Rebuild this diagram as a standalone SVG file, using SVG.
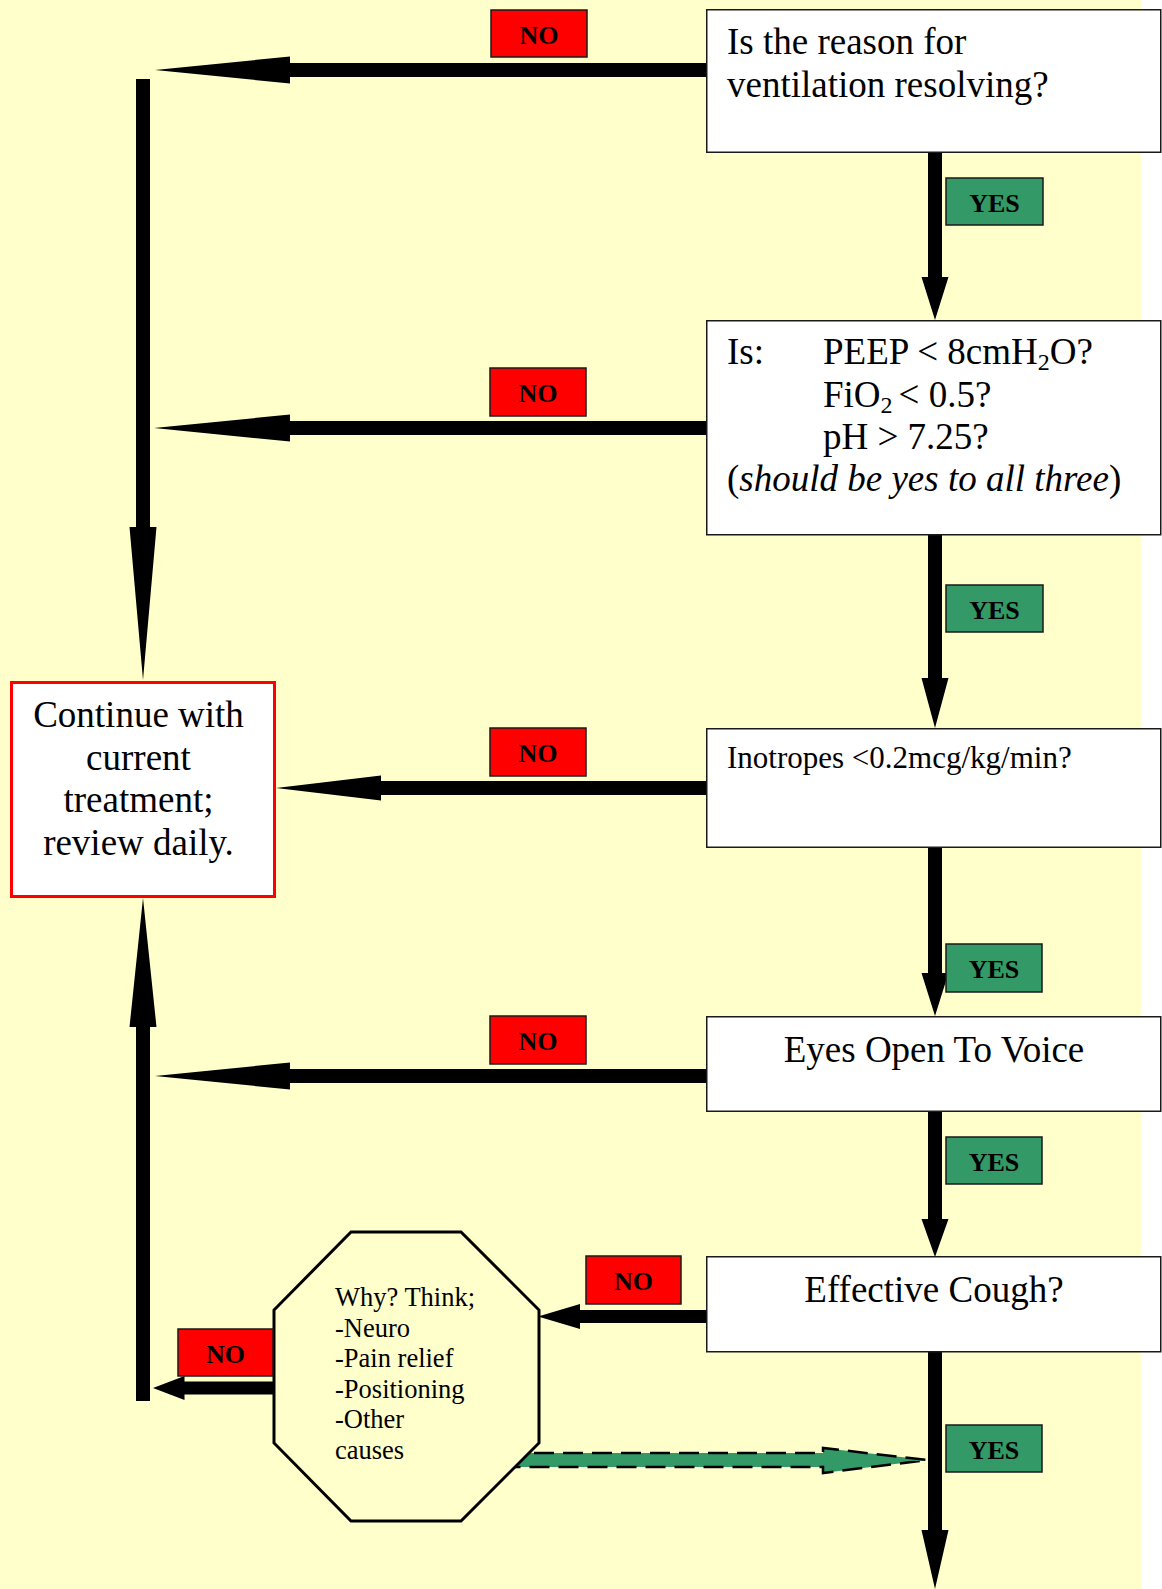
<svg xmlns="http://www.w3.org/2000/svg" width="1162" height="1589" viewBox="0 0 1162 1589">
<style>
.box{fill:#FFFFFF;stroke:#1a1a1a;stroke-width:1.5}
.no{fill:#FF0000;stroke:#1a1a1a;stroke-width:1.5}
.yes{fill:#339966;stroke:#1a1a1a;stroke-width:1.5}
.lbl{font-family:"Liberation Serif",serif;font-weight:bold;font-size:26px;text-anchor:middle;fill:#000}
.t{font-family:"Liberation Serif",serif;font-size:37px;fill:#000}
.t31{font-family:"Liberation Serif",serif;font-size:31px;fill:#000}
.t26{font-family:"Liberation Serif",serif;font-size:26.5px;fill:#000}
.c{text-anchor:middle}
.arr{fill:#000}
.dash{fill:#339966;stroke:#000;stroke-width:2.5;stroke-dasharray:20 9}
</style>
<rect x="0" y="0" width="1162" height="1589" fill="#FFFFFF"/>
<rect x="0" y="0" width="1141" height="1589" fill="#FFFFCC"/>
<g id="connectors">
  <polygon class="arr" points="706,63 290,63 290,56.5 155,70 290,83.5 290,77 706,77"/>
  <polygon class="arr" points="706,421 290,421 290,414.5 154,428 290,441.5 290,435 706,435"/>
  <polygon class="arr" points="706,781 381,781 381,775.5 276,788 381,800.5 381,795 706,795"/>
  <polygon class="arr" points="706,1069 290,1069 290,1062.5 155,1076 290,1089.5 290,1083 706,1083"/>
  <polygon class="arr" points="706,1310 580,1310 580,1304 538,1316.5 580,1329 580,1323 706,1323"/>
  <polygon class="arr" points="274,1381.5 184.5,1381.5 184.5,1376 153,1388 184.5,1400 184.5,1394.5 274,1394.5"/>
  <polygon class="arr" points="136,79 150,79 150,527 156.5,527 143,680 129.5,527 136,527"/>
  <polygon class="arr" points="136,1401 150,1401 150,1027 156.5,1027 143,898 129.5,1027 136,1027"/>
  <polygon class="arr" points="928,153 942,153 942,277 948.5,277 935,320 921.5,277 928,277"/>
  <polygon class="arr" points="928,535 942,535 942,678 948.5,678 935,728 921.5,678 928,678"/>
  <polygon class="arr" points="928,848 942,848 942,973 948.5,973 935,1016 921.5,973 928,973"/>
  <polygon class="arr" points="928,1111 942,1111 942,1219 948.5,1219 935,1257 921.5,1219 928,1219"/>
  <polygon class="arr" points="928,1352 942,1352 942,1530 948.5,1530 935,1589 921.5,1530 928,1530"/>
  <polygon class="dash" points="505,1453 823,1453 823,1448 927,1460 823,1473 823,1467 505,1467"/>
</g>
<g id="node-reason">
  <rect class="box" x="706.75" y="9.75" width="454" height="142.5"/>
  <text class="t" x="727" y="54">Is the reason for</text>
  <text class="t" x="727" y="97">ventilation resolving?</text>
</g>
<g id="node-peep">
  <rect class="box" x="706.75" y="320.75" width="454" height="214"/>
  <text class="t" x="727" y="364">Is:</text>
  <text class="t" x="823" y="364">PEEP &lt; 8cmH<tspan font-size="24" dy="6">2</tspan><tspan dy="-6">O?</tspan></text>
  <text class="t" x="823" y="407">FiO<tspan font-size="24" dy="6">2 </tspan><tspan dy="-6">&lt; 0.5?</tspan></text>
  <text class="t" x="823" y="449">pH &gt; 7.25?</text>
  <text class="t" x="727" y="491">(<tspan font-style="italic">should be yes to all three</tspan>)</text>
</g>
<g id="node-inotropes">
  <rect class="box" x="706.75" y="728.75" width="454" height="118.5"/>
  <text class="t31" x="727" y="768">Inotropes &lt;0.2mcg/kg/min?</text>
</g>
<g id="node-eyes">
  <rect class="box" x="706.75" y="1016.75" width="454" height="94.5"/>
  <text class="t c" x="934" y="1062">Eyes Open To Voice</text>
</g>
<g id="node-cough">
  <rect class="box" x="706.75" y="1256.75" width="454" height="95"/>
  <text class="t c" x="934" y="1302">Effective Cough?</text>
</g>
<g id="node-continue">
  <rect x="11.5" y="682.5" width="263" height="214" fill="#FFFFFF" stroke="#FF0000" stroke-width="3"/>
  <text class="t c" x="138.5" y="727">Continue with</text>
  <text class="t c" x="138.5" y="770">current</text>
  <text class="t c" x="138.5" y="812">treatment;</text>
  <text class="t c" x="138.5" y="855">review daily.</text>
</g>
<g id="node-why">
  <polygon points="351,1232 461,1232 539,1310 539,1443 461,1521 351,1521 274,1443 274,1310" fill="#FFFFCC" stroke="#000" stroke-width="3"/>
  <text class="t26" x="335" y="1306">Why? Think;</text>
  <text class="t26" x="335" y="1337">-Neuro</text>
  <text class="t26" x="335" y="1367">-Pain relief</text>
  <text class="t26" x="335" y="1398">-Positioning</text>
  <text class="t26" x="335" y="1428">-Other</text>
  <text class="t26" x="335" y="1459">causes</text>
</g>
<g id="labels">
  <rect class="no" x="491" y="10" width="96" height="47"/><text class="lbl" x="539" y="44">NO</text>
  <rect class="no" x="490" y="368" width="96" height="48"/><text class="lbl" x="538" y="402">NO</text>
  <rect class="no" x="490" y="728" width="96" height="48"/><text class="lbl" x="538" y="762">NO</text>
  <rect class="no" x="490" y="1016" width="96" height="48"/><text class="lbl" x="538" y="1050">NO</text>
  <rect class="no" x="586" y="1256" width="95" height="48"/><text class="lbl" x="633.5" y="1290">NO</text>
  <rect class="no" x="178" y="1329" width="95" height="47"/><text class="lbl" x="225.5" y="1363">NO</text>
  <rect class="yes" x="946" y="178" width="97" height="47"/><text class="lbl" x="994.5" y="212">YES</text>
  <rect class="yes" x="946" y="585" width="97" height="47"/><text class="lbl" x="994.5" y="619">YES</text>
  <rect class="yes" x="946" y="944" width="96" height="48"/><text class="lbl" x="994" y="978">YES</text>
  <rect class="yes" x="946" y="1137" width="96" height="47"/><text class="lbl" x="994" y="1171">YES</text>
  <rect class="yes" x="946" y="1425" width="96" height="47"/><text class="lbl" x="994" y="1459">YES</text>
</g>
</svg>
